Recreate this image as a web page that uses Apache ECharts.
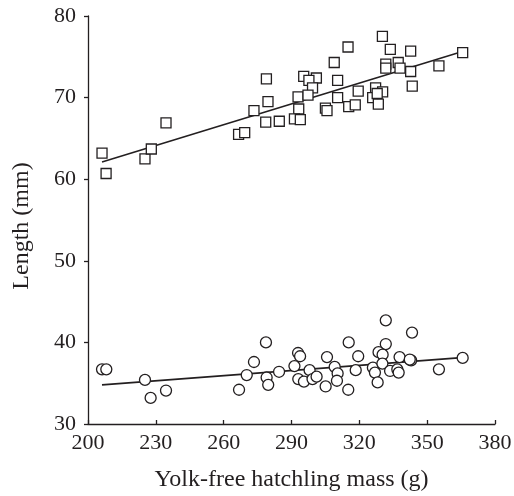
<!DOCTYPE html>
<html>
<head>
<meta charset="utf-8">
<script src="https://cdn.jsdelivr.net/npm/echarts@6/dist/echarts.min.js"></script>
<style>
  html, body { margin: 0; padding: 0; background: #fff; }
  #chart { width: 514px; height: 496px; }
</style>
</head>
<body>
<div id="chart"></div>
<script>
// Squares: length (upper group)
var squareMass = [206.2, 208.0, 234.5, 225.2, 228.0, 266.6, 269.3,
  330.2, 315.0, 333.7, 342.7, 365.7, 308.9, 331.7, 337.2, 331.7, 338.0, 355.2, 342.7,
  278.9, 295.4, 301.0, 297.7, 310.4, 299.3, 343.4, 319.5, 327.2, 330.3, 325.9, 327.9,
  292.9, 297.3, 310.4, 279.6, 273.4, 293.2, 305.0, 305.7, 315.3, 318.2, 328.4,
  278.6, 284.6, 291.3, 293.9];
var squareLength = [63.2, 60.7, 66.9, 62.5, 63.7, 65.5, 65.7,
  77.5, 76.2, 75.9, 75.7, 75.5, 74.3, 74.1, 74.3, 73.6, 73.6, 73.9, 73.2,
  72.3, 72.6, 72.4, 72.1, 72.1, 71.2, 71.4, 70.8, 71.2, 70.7, 70.0, 70.5,
  70.1, 70.3, 70.0, 69.5, 68.4, 68.6, 68.7, 68.4, 68.9, 69.1, 69.2,
  67.0, 67.1, 67.4, 67.3];

// Circles: lower group
var circleMass = [206.2, 208.1, 225.2, 234.5, 227.7,
  331.7, 343.3, 278.7, 315.3, 331.7, 273.4, 292.9, 293.8, 305.7, 319.5, 328.5, 330.3,
  337.8, 342.9, 342.3, 365.7, 291.3, 298.0, 309.1, 310.4, 318.4, 326.0, 330.2, 333.6,
  336.8, 337.4, 355.2, 284.5, 270.2, 279.0, 279.7, 266.8, 293.0, 295.5, 299.3, 301.1,
  310.1, 305.1, 315.1, 326.9, 328.1];
var circleLength = [36.7, 36.7, 35.4, 34.1, 33.2,
  42.7, 41.2, 40.0, 40.0, 39.8, 37.6, 38.7, 38.3, 38.2, 38.3, 38.8, 38.5,
  38.2, 37.8, 37.9, 38.1, 37.1, 36.6, 37.0, 36.2, 36.6, 36.9, 37.4, 36.5,
  36.7, 36.3, 36.7, 36.4, 36.0, 35.7, 34.8, 34.2, 35.5, 35.2, 35.5, 35.8,
  35.3, 34.6, 34.2, 36.3, 35.1];

// Fitted lines (endpoints)
var squareFitX = [206.2, 363.8];
var squareFitY = [62.1, 75.5];
var circleFitX = [206.2, 363.8];
var circleFitY = [34.8, 38.1];

var xTicks = [200, 230, 260, 290, 320, 350, 380];
var yTicks = [30, 40, 50, 60, 70, 80];

function pairs(xs, ys) { return xs.map(function (x, i) { return [x, ys[i]]; }); }

var font = '"Liberation Serif", "DejaVu Serif", serif';
var ink = '#231f20';

var chart = echarts.init(document.getElementById('chart'), null, { renderer: 'canvas' });
chart.setOption({
  backgroundColor: '#fff',
  animation: false,
  grid: { left: 88, right: 19, top: 16, bottom: 72, containLabel: false, outerBoundsMode: 'none' },
  xAxis: {
    type: 'value', min: xTicks[0], max: xTicks[xTicks.length - 1], interval: 30,
    name: 'Yolk-free hatchling mass (g)', nameLocation: 'middle', nameGap: 44,
    nameTextStyle: { fontFamily: font, fontSize: 24, color: ink },
    axisLine: { lineStyle: { color: ink, width: 1.3 } },
    axisTick: { inside: true, length: 4, lineStyle: { color: ink, width: 1.3 } },
    axisLabel: { fontFamily: font, fontSize: 22, color: ink, margin: 8 },
    splitLine: { show: false }
  },
  yAxis: {
    type: 'value', min: yTicks[0], max: yTicks[yTicks.length - 1], interval: 10,
    name: 'Length (mm)', nameLocation: 'middle', nameGap: 54,
    nameTextStyle: { fontFamily: font, fontSize: 24, color: ink, padding: [0, 12, 0, 0] },
    axisLine: { show: true, lineStyle: { color: ink, width: 1.3 } },
    axisTick: { show: true, inside: false, length: 4, lineStyle: { color: ink, width: 1.3 } },
    axisLabel: { fontFamily: font, fontSize: 22, color: ink, margin: 12 },
    splitLine: { show: false }
  },
  series: [
    {
      type: 'line', data: pairs(squareFitX, squareFitY), showSymbol: false, symbol: 'none',
      lineStyle: { color: ink, width: 1.6 }, z: 1
    },
    {
      type: 'line', data: pairs(circleFitX, circleFitY), showSymbol: false, symbol: 'none',
      lineStyle: { color: ink, width: 1.6 }, z: 1
    },
    {
      type: 'scatter', data: pairs(squareMass, squareLength), symbol: 'rect', symbolSize: 10,
      itemStyle: { color: '#fff', borderColor: ink, borderWidth: 1.3, opacity: 1 }, z: 2
    },
    {
      type: 'scatter', data: pairs(circleMass, circleLength), symbol: 'circle', symbolSize: 11,
      itemStyle: { color: '#fff', borderColor: ink, borderWidth: 1.3, opacity: 1 }, z: 2
    }
  ]
});
</script>
</body>
</html>
